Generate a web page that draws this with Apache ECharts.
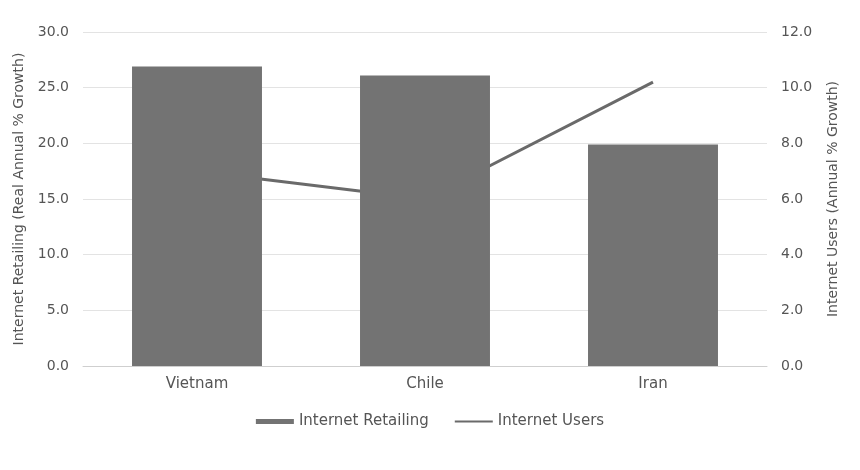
<!DOCTYPE html>
<html>
<head>
<meta charset="utf-8">
<script src="https://cdn.jsdelivr.net/npm/echarts@6/dist/echarts.min.js"></script>
<style>html,body{margin:0;padding:0;background:#fff}#c{width:860px;height:470px}</style>
</head>
<body>
<div id="c"></div>
<script>
var categories = ["Vietnam", "Chile", "Iran"];
var retailing = [26.9, 26.1, 19.9];
var users = [7.0, 6.0, 10.2];
var leftTicks = { min: 0, max: 30, interval: 5 };
var rightTicks = { min: 0, max: 12, interval: 2 };

var chart = echarts.init(document.getElementById('c'), null, { renderer: 'canvas' });
var font = 'DejaVu Sans, sans-serif';
chart.setOption({
  animation: false,
  backgroundColor: '#fff',
  textStyle: { fontFamily: font },
  grid: { left: 83, right: 93, top: 32, bottom: 104 },
  legend: {
    bottom: 36,
    left: 'center',
    itemWidth: 38,
    itemHeight: 5,
    itemGap: 26,
    itemTextGap: 5,
    textStyle: { color: '#555', fontSize: 15, fontFamily: font },
    data: [
      { name: 'Internet Retailing', icon: 'rect' },
      { name: 'Internet Users', icon: 'path://M0,0L40,0L40,2L0,2Z' }
    ]
  },
  xAxis: {
    type: 'category',
    data: categories,
    axisLine: { show: true, lineStyle: { color: '#cfcfcf' } },
    axisTick: { show: false },
    axisLabel: { color: '#555', fontSize: 15, margin: 11, fontFamily: font }
  },
  yAxis: [
    {
      type: 'value', min: leftTicks.min, max: leftTicks.max, interval: leftTicks.interval,
      name: 'Internet Retailing (Real Annual % Growth)',
      nameLocation: 'middle', nameGap: 57, nameRotate: 90,
      nameTextStyle: { color: '#555', fontSize: 14, fontFamily: font },
      axisLabel: { color: '#555', fontSize: 14, margin: 14, fontFamily: font, formatter: function (v) { return v.toFixed(1); } },
      axisLine: { show: false }, axisTick: { show: false },
      splitLine: { lineStyle: { color: '#e3e3e3' } }
    },
    {
      type: 'value', min: rightTicks.min, max: rightTicks.max, interval: rightTicks.interval,
      name: 'Internet Users (Annual % Growth)',
      nameLocation: 'middle', nameGap: 59, nameRotate: 90,
      nameTextStyle: { color: '#555', fontSize: 14, fontFamily: font },
      axisLabel: { color: '#555', fontSize: 14, margin: 14, fontFamily: font, formatter: function (v) { return v.toFixed(1); } },
      axisLine: { show: false }, axisTick: { show: false },
      splitLine: { show: false }
    }
  ],
  series: [
    {
      name: 'Internet Retailing', type: 'bar', data: retailing,
      barWidth: '57%', yAxisIndex: 0,
      itemStyle: { color: '#737373' }, z: 3
    },
    {
      name: 'Internet Users', type: 'line', data: users, yAxisIndex: 1,
      symbol: 'none', lineStyle: { color: '#6a6a6a', width: 3 },
      itemStyle: { color: '#6a6a6a' }, z: 2
    }
  ]
});
</script>
</body>
</html>
